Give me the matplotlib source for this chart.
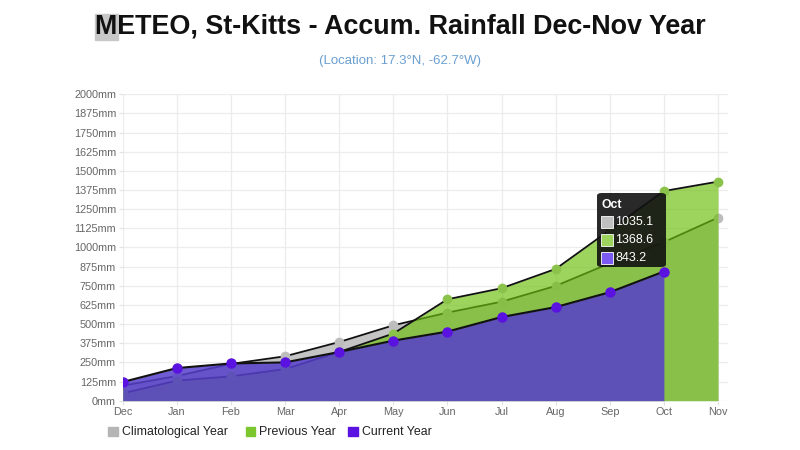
import matplotlib
matplotlib.use("Agg")
import matplotlib.pyplot as plt
from matplotlib.patches import Rectangle, FancyBboxPatch
import numpy as np

plt.rcParams['font.family'] = ['Liberation Sans', 'DejaVu Sans']

# ---- data ----
months = ['Dec', 'Jan', 'Feb', 'Mar', 'Apr', 'May', 'Jun', 'Jul', 'Aug', 'Sep', 'Oct', 'Nov']
clim_year = [98, 161, 240, 290, 383, 492, 575, 646, 749, 897, 1035.1, 1195]
prev_year = [48, 131, 159, 206, 318, 438, 662, 734, 860, 1114, 1368.6, 1430]
curr_year = [122, 213, 243, 250, 318, 392, 451, 546, 611, 708, 843.2]
y_ticks = list(range(0, 2001, 125))
series_names = ['Climatological Year', 'Previous Year', 'Current Year']
tooltip_month = 'Oct'

W, H = 800, 450
fig = plt.figure(figsize=(W / 100, H / 100), dpi=100)
fig.patch.set_facecolor('white')

def fx(x):
    return x / W

def fy(y):
    return (H - y) / H

# axes placement (pixel coords of reference)
x_left, x_right = 122.7, 728
y_top, y_bot = 94.3, 400.7
ax = fig.add_axes([fx(x_left), fy(y_bot), fx(x_right - x_left), (y_bot - y_top) / H])
px_per_month = (718 - 122.7) / 11
ax.set_xlim(0, 11 + (x_right - 718) / px_per_month)
ax.set_ylim(0, 2000)

x_all = np.arange(len(months))
x_cur = np.arange(len(curr_year))

clim_fill = '#c4c4c4'
prev_fill = (109 / 255, 191 / 255, 15 / 255)
curr_fill = (86 / 255, 62 / 255, 203 / 255)

# climatological
ax.fill_between(x_all, 0, clim_year, color=clim_fill, lw=0, zorder=2)
ax.plot(x_all, clim_year, color='#111111', lw=1.3, zorder=2.1)
ax.plot(x_all, clim_year, 'o', ms=6, color='#bdbdbd', mec='#bdbdbd', zorder=2.2)
# previous
ax.fill_between(x_all, 0, prev_year, color=prev_fill, alpha=0.67, lw=0, zorder=3)
ax.plot(x_all, prev_year, color='#111111', lw=1.3, zorder=3.1)
ax.plot(x_all, prev_year, 'o', ms=6, color='#8bc34a', mec='#8bc34a', zorder=3.2)
# current
ax.fill_between(x_cur, 0, curr_year, color=curr_fill, alpha=0.85, lw=0, zorder=4)
ax.plot(x_cur, curr_year, color='#111111', lw=1.5, zorder=4.1)
ax.plot(x_cur, curr_year, 'o', ms=6.5, color='#5a12e0', mec='#5a12e0', zorder=4.2)

# grid / ticks
ax.set_xticks(x_all)
ax.set_xticklabels(months)
ax.set_yticks(y_ticks)
ax.set_yticklabels([f'{v}mm' for v in y_ticks])
ax.grid(True, color='#ececec', lw=0.9, zorder=0)
ax.set_axisbelow(True)
for s in ax.spines.values():
    s.set_visible(False)
ax.tick_params(axis='both', colors='#e2e2e2', labelcolor='#666666', labelsize=7.8,
               length=3, width=0.8, pad=1.8)

# title
title = fig.text(0.5, fy(27), 'METEO, St-Kitts - Accum. Rainfall Dec-Nov Year',
                 ha='center', va='center', fontsize=19.4, fontweight='bold', color='#111111', zorder=5)
fig.text(0.5, fy(61), '(Location: 17.3°N, -62.7°W)', ha='center', va='center',
         fontsize=9.5, color='#6a9fd0')

# highlight behind first letter
fig.canvas.draw()
r = fig.canvas.get_renderer()
bb = title.get_window_extent(r)
tmp = fig.text(0, 0, 'M', fontsize=19.4, fontweight='bold')
mw = tmp.get_window_extent(r).width
tmp.remove()
fig.patches.append(Rectangle((bb.x0 / W, fy(40)), (mw + 1) / W, 26 / H,
                             transform=fig.transFigure, color='#c8c8c8', zorder=1))

# legend (manual)
leg_y = 431.7
items = [(108.3, '#b5b5b5', series_names[0]), (245.7, '#7cc62e', series_names[1]),
         (348.3, '#5a12e0', series_names[2])]
for x0, c, lab in items:
    fig.patches.append(Rectangle((fx(x0), fy(leg_y + 4.7)), 9.5 / W, 9.5 / H,
                                 transform=fig.transFigure, color=c))
    fig.text(fx(x0 + 13.5), fy(leg_y), lab, ha='left', va='center', fontsize=8.9, color='#222222')

# tooltip
fig.patches.append(FancyBboxPatch((fx(597), fy(267)), 69 / W, 74 / H,
                                  boxstyle='round,pad=0,rounding_size=0.006',
                                  transform=fig.transFigure, facecolor='#111111', alpha=0.9,
                                  edgecolor='none', zorder=10))
fig.text(fx(602), fy(205), tooltip_month, ha='left', va='center', fontsize=8.8,
         fontweight='bold', color='white', zorder=11)
idx = months.index(tooltip_month)
tip_vals = [clim_year[idx], prev_year[idx], curr_year[idx]]
tip_cols = ['#c0c0c0', '#9dd45e', '#7a5af0']
for k, (v, c) in enumerate(zip(tip_vals, tip_cols)):
    yc = 222 + k * 18
    fig.patches.append(Rectangle((fx(601), fy(yc + 6)), 12 / W, 12 / H,
                                 transform=fig.transFigure, facecolor=c,
                                 edgecolor='white', lw=0.6, zorder=11))
    fig.text(fx(615.5), fy(yc), f'{v:.1f}', ha='left', va='center', fontsize=9,
             color='white', zorder=11)

fig.savefig('out.png', dpi=100)
